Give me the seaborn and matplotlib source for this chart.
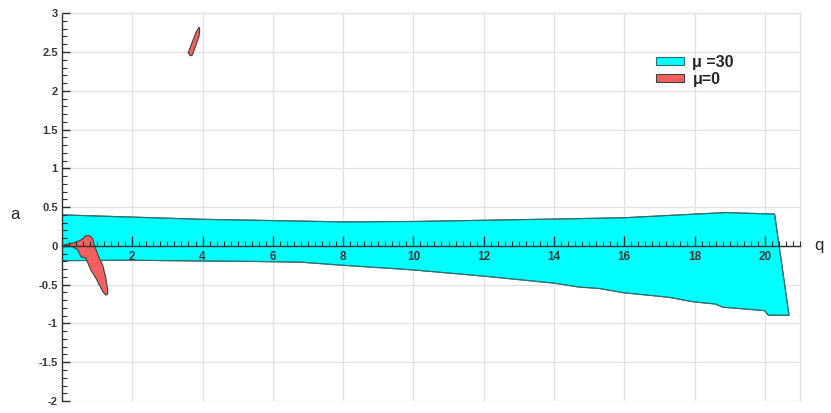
import matplotlib
matplotlib.use("Agg")
import matplotlib.pyplot as plt
import numpy as np
import pandas as pd
import seaborn as sns
from matplotlib.ticker import MultipleLocator, FixedLocator

# mu = 30 band: upper edge (left -> right), lower edge (left -> right)
band_upper_q = [0.0, 4.0, 8.0, 10.0, 14.0, 16.0, 18.0, 18.9, 20.28]
band_upper_a = [0.40, 0.343, 0.31, 0.315, 0.346, 0.363, 0.41, 0.43, 0.41]
band_lower_q = [0.0, 2.0, 4.0, 5.4, 6.8, 8.0, 10.0, 12.0, 14.0, 14.7, 15.3, 16.0,
                17.0, 17.3, 17.95, 18.6, 18.8, 20.0, 20.1, 20.69]
band_lower_a = [-0.19, -0.185, -0.195, -0.20, -0.21, -0.25, -0.31, -0.39, -0.48, -0.53,
                -0.55, -0.605, -0.65, -0.665, -0.72, -0.75, -0.79, -0.835, -0.894, -0.894]

# mu = 0 regions (closed outlines)
red1_q = [0.03, 0.35, 0.54, 0.68, 0.78, 0.87, 0.92, 1.06, 1.16, 1.25, 1.30, 1.30, 1.25,
          1.16, 0.97, 0.82, 0.68, 0.54, 0.45, 0.30]
red1_a = [0.01, 0.04, 0.075, 0.13, 0.133, 0.097, 0.01, -0.16, -0.25, -0.42, -0.57, -0.62,
          -0.635, -0.59, -0.42, -0.31, -0.16, -0.14, -0.05, -0.01]
red2_q = [3.90, 3.92, 3.90, 3.71, 3.65, 3.59, 3.81]
red2_a = [2.82, 2.80, 2.70, 2.46, 2.45, 2.49, 2.75]

labels = ['\u03bc =30', '\u03bc=0']
colors = ['#00ffff', '#f26160']

y_ticks = [-2, -1.5, -1, -0.5, 0, 0.5, 1, 1.5, 2, 2.5, 3]
x_ticks = [2, 4, 6, 8, 10, 12, 14, 16, 18, 20]

sns.set_theme(style='white')
plt.rcParams['font.family'] = ['Liberation Sans', 'DejaVu Sans']

fig = plt.figure(figsize=(8.31, 4.13), dpi=100)
ax = fig.add_axes([0.0746, 0.029, 0.888, 0.939])

# grid drawn by hand so it stays under the fills while ticks stay on top
grid_c = '#e3e3e3'
for v in x_ticks:
    ax.axvline(v, color=grid_c, linewidth=1.0, zorder=0)
for v in y_ticks:
    ax.axhline(v, color=grid_c, linewidth=1.0, zorder=0)

band_q = band_upper_q + band_lower_q[::-1]
band_a = band_upper_a + band_lower_a[::-1]
ax.fill(band_q, band_a, facecolor=colors[0], edgecolor='#2f6f6f', linewidth=0.8,
        label=labels[0], zorder=1)
ax.fill(red1_q, red1_a, facecolor=colors[1], edgecolor='#404040', linewidth=0.8,
        label=labels[1], zorder=1.5)
ax.fill(red2_q, red2_a, facecolor=colors[1], edgecolor='#404040', linewidth=0.8, zorder=1.5)

# outline of the band with seaborn
df = pd.DataFrame({'q': band_q + [band_q[0]], 'a': band_a + [band_a[0]]})
sns.lineplot(data=df, x='q', y='a', sort=False, estimator=None, color='#2f6f6f',
             linewidth=0.8, ax=ax, zorder=1.2)

ax.set_xlim(0, 21)
ax.set_ylim(-2, 3)

ax.spines['bottom'].set_position(('data', 0))
ax.spines['bottom'].set_color('#303030')
ax.spines['left'].set_color('#303030')
ax.spines['bottom'].set_linewidth(1.0)
ax.spines['left'].set_linewidth(1.0)
for s in ['top', 'right']:
    ax.spines[s].set_color(grid_c)
    ax.spines[s].set_linewidth(1.0)

ax.xaxis.set_major_locator(FixedLocator(x_ticks))
ax.xaxis.set_minor_locator(MultipleLocator(0.2))
ax.yaxis.set_major_locator(FixedLocator(y_ticks))
ax.yaxis.set_minor_locator(MultipleLocator(0.1))
ax.set_xticklabels([f'{v:g}' for v in x_ticks])
ax.set_yticklabels([f'{v:g}' for v in y_ticks])

ax.tick_params(axis='x', which='major', direction='in', length=7, width=1, color='#303030',
               bottom=True, pad=4, labelsize=8.5, labelcolor='#383838')
ax.tick_params(axis='x', which='minor', direction='in', length=3.5, width=0.8,
               color='#303030', bottom=True)
ax.tick_params(axis='y', which='major', direction='in', length=6, width=1, color='#303030',
               left=True, pad=3, labelsize=8, labelcolor='#383838')
ax.tick_params(axis='y', which='minor', direction='in', length=3.5, width=0.8,
               color='#303030', left=True)
for t in ax.get_xticklabels() + ax.get_yticklabels():
    t.set_fontweight('bold')
ax.grid(False)
ax.set_axisbelow(False)

ax.set_xlabel('q', fontsize=12)
ax.xaxis.set_label_coords(1.02, 0.40)
ax.xaxis.label.set_horizontalalignment('left')
ax.xaxis.label.set_verticalalignment('center')
ax.set_ylabel('a', fontsize=12, rotation=0, va='center')
ax.yaxis.set_label_coords(-0.064, 0.48)

ax.legend(loc='upper left', bbox_to_anchor=(0.785, 0.93), frameon=False,
          prop={'weight': 'bold', 'size': 11.5}, handlelength=1.8, handleheight=0.45,
          handletextpad=0.5, labelspacing=0.12)

fig.savefig('out.png', dpi=100)
